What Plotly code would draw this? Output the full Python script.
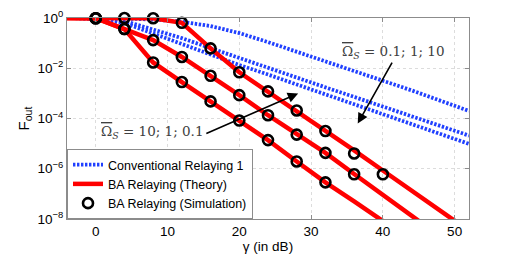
import plotly.graph_objects as go

# ---- data ----
gamma_theory = [-4, 0, 4, 8, 12, 16, 20, 24, 28, 32, 36, 40, 44, 48, 52]

ba_theory_1 = [1, 1, 1, 0.977, 0.646, 6.17e-2, 6.92e-3, 1.17e-3, 2.0e-4, 3.31e-5, 5.37e-6, 8.51e-7, 1.35e-7, 2.14e-8, 3.39e-9]
ba_theory_2 = [1, 0.977, 0.363, 0.132, 2.82e-2, 5.01e-3, 8.51e-4, 1.35e-4, 2.29e-5, 4.27e-6, 6.17e-7, 8.91e-8, 1.41e-8, 2.0e-9]
ba_theory_3 = [1, 0.977, 0.363, 1.70e-2, 2.82e-3, 4.79e-4, 8.32e-5, 1.38e-5, 1.95e-6, 2.88e-7, 5.01e-8, 8.32e-9]

gamma_sim = [0, 4, 8, 12, 16, 20, 24, 28, 32, 36, 40]
ba_sim_1 = [0.977, 1.0, 0.977, 0.646, 6.17e-2, 6.92e-3, 1.20e-3, 2.09e-4, 3.16e-5, 4.07e-6, 6.03e-7]
ba_sim_2 = [0.977, 0.363, 0.132, 2.82e-2, 5.01e-3, 8.51e-4, 1.35e-4, 2.29e-5, 4.27e-6, 6.03e-7]
ba_sim_3 = [0.977, 0.363, 1.70e-2, 2.82e-3, 4.79e-4, 8.32e-5, 1.38e-5, 1.95e-6, 2.88e-7]

conv_1 = [1, 0.989, 0.955, 0.871, 0.708, 0.479, 0.251, 0.110, 4.57e-2, 1.91e-2, 7.94e-3, 3.31e-3, 1.32e-3, 5.13e-4, 2.0e-4]
conv_2 = [1, 0.955, 0.759, 0.355, 0.158, 6.31e-2, 2.63e-2, 1.05e-2, 4.27e-3, 1.74e-3, 7.24e-4, 3.02e-4, 1.26e-4, 5.13e-5, 2.09e-5]
conv_3 = [1, 0.933, 0.631, 0.240, 8.91e-2, 3.39e-2, 1.35e-2, 5.62e-3, 2.29e-3, 9.12e-4, 3.72e-4, 1.48e-4, 6.03e-5, 2.40e-5, 9.77e-6]

x_ticks = [0, 10, 20, 30, 40, 50]
y_tickvals = [1, 1e-2, 1e-4, 1e-6, 1e-8]
y_ticktext = ["10<sup>0</sup>", "10<sup>\u22122</sup>", "10<sup>\u22124</sup>", "10<sup>\u22126</sup>", "10<sup>\u22128</sup>"]

legend_names = ["Conventional Relaying 1", "BA Relaying (Theory)", "BA Relaying (Simulation)"]
OMEGA = "<span style=\"text-decoration:overline\">\u03a9</span><sub><i>S</i></sub>"
label_low = OMEGA + " = 10; 1; 0.1"
label_high = OMEGA + " = 0.1; 1; 10"

BLUE = "#2040ff"
RED = "#ff0000"
SANS = "Liberation Sans, Arial, sans-serif"

fig = go.Figure()

for i, c in enumerate([conv_1, conv_2, conv_3]):
    fig.add_trace(go.Scatter(
        x=gamma_theory[:len(c)], y=c, mode="lines",
        line=dict(color=BLUE, width=3.8, dash="2.4px,1.6px"),
        name=legend_names[0], legendgroup="conv", showlegend=(i == 0)))

for i, t in enumerate([ba_theory_1, ba_theory_2, ba_theory_3]):
    fig.add_trace(go.Scatter(
        x=gamma_theory[:len(t)], y=t, mode="lines",
        line=dict(color=RED, width=4.5),
        name=legend_names[1], legendgroup="theory", showlegend=(i == 0)))

for i, s in enumerate([ba_sim_1, ba_sim_2, ba_sim_3]):
    fig.add_trace(go.Scatter(
        x=gamma_sim[:len(s)], y=s, mode="markers",
        marker=dict(symbol="circle-open", size=10, color="black", line=dict(width=2.6, color="black")),
        cliponaxis=False,
        name=legend_names[2], legendgroup="sim", showlegend=(i == 0)))

TXT = dict(family="DejaVu Serif, serif", size=13.5, color="#404040")

fig.add_annotation(x=7.8, y=-4.55, xref="x", yref="y", text=label_low, showarrow=False, font=TXT)
fig.add_annotation(x=41.4, y=-1.36, xref="x", yref="y", text=label_high, showarrow=False, font=TXT)
# arrows
fig.add_annotation(x=28.2, y=-3.0, ax=15.2, ay=-4.62, xref="x", yref="y", axref="x", ayref="y",
                   text="", showarrow=True, arrowhead=2, arrowsize=1.3, arrowwidth=1.6, arrowcolor="black")
fig.add_annotation(x=36.5, y=-4.2, ax=41.4, ay=-1.72, xref="x", yref="y", axref="x", ayref="y",
                   text="", showarrow=True, arrowhead=2, arrowsize=1.3, arrowwidth=1.6, arrowcolor="black")

AX = dict(showline=True, linecolor="#8c8c8c", linewidth=1, mirror="ticks",
          ticks="inside", ticklen=4, tickcolor="#8c8c8c", automargin=False,
          showgrid=True, gridcolor="#dcdcdc", griddash="dot", gridwidth=1,
          zeroline=False, tickfont=dict(family=SANS, size=13.5, color="black"))

fig.update_xaxes(range=[-4, 52], tickvals=x_ticks, **AX,
                 title=dict(text="\u03b3 (in dB)", standoff=1,
                            font=dict(family=SANS, size=13.5, color="black")))
fig.update_yaxes(type="log", range=[-8, 0], tickvals=y_tickvals, ticktext=y_ticktext, **AX,
                 title=dict(text="F<sub>out</sub>", standoff=4,
                            font=dict(family=SANS, size=15, color="black")))

fig.update_layout(
    width=519, height=254,
    margin=dict(l=67, r=50, t=18, b=35),
    plot_bgcolor="white", paper_bgcolor="white",
    font=dict(family=SANS, size=13, color="black"),
    legend=dict(x=0, y=0, xanchor="left", yanchor="bottom", bgcolor="white",
                bordercolor="#8c8c8c", borderwidth=1, itemwidth=30, tracegroupgap=0,
                font=dict(size=12.5), traceorder="normal"),
)

fig.write_html("out.html", config={"displayModeBar": False},
               post_script="document.body.style.margin='0';document.body.style.padding='0';")
